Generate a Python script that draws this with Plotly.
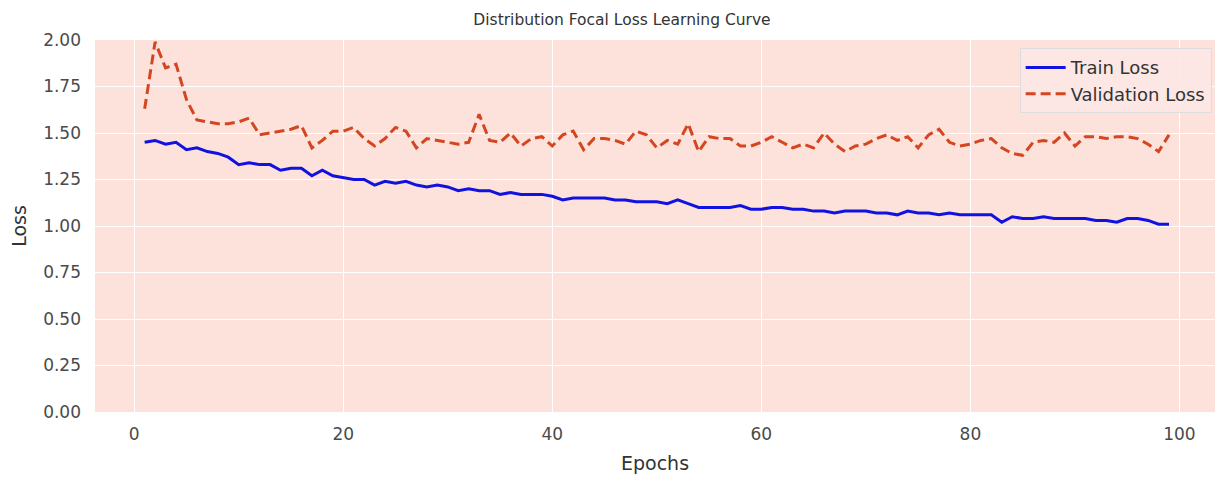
import plotly.graph_objects as go

epochs = list(range(1, 100))

train_loss = [
    1.45, 1.46, 1.44, 1.45, 1.41, 1.42, 1.40, 1.39, 1.37, 1.33,
    1.34, 1.33, 1.33, 1.30, 1.31, 1.31, 1.27, 1.30, 1.27, 1.26,
    1.25, 1.25, 1.22, 1.24, 1.23, 1.24, 1.22, 1.21, 1.22, 1.21,
    1.19, 1.20, 1.19, 1.19, 1.17, 1.18, 1.17, 1.17, 1.17, 1.16,
    1.14, 1.15, 1.15, 1.15, 1.15, 1.14, 1.14, 1.13, 1.13, 1.13,
    1.12, 1.14, 1.12, 1.10, 1.10, 1.10, 1.10, 1.11, 1.09, 1.09,
    1.10, 1.10, 1.09, 1.09, 1.08, 1.08, 1.07, 1.08, 1.08, 1.08,
    1.07, 1.07, 1.06, 1.08, 1.07, 1.07, 1.06, 1.07, 1.06, 1.06,
    1.06, 1.06, 1.02, 1.05, 1.04, 1.04, 1.05, 1.04, 1.04, 1.04,
    1.04, 1.03, 1.03, 1.02, 1.04, 1.04, 1.03, 1.01, 1.01,
]

val_loss = [
    1.63, 1.99, 1.85, 1.87, 1.68, 1.57, 1.56, 1.55, 1.55, 1.56,
    1.58, 1.49, 1.50, 1.51, 1.52, 1.54, 1.42, 1.46, 1.51, 1.51,
    1.53, 1.47, 1.43, 1.47, 1.53, 1.51, 1.42, 1.47, 1.46, 1.45,
    1.44, 1.45, 1.60, 1.46, 1.45, 1.50, 1.43, 1.47, 1.48, 1.43,
    1.49, 1.51, 1.41, 1.47, 1.47, 1.46, 1.44, 1.51, 1.49, 1.42,
    1.46, 1.44, 1.55, 1.40, 1.48, 1.47, 1.47, 1.43, 1.43, 1.45,
    1.48, 1.45, 1.42, 1.44, 1.42, 1.50, 1.44, 1.40, 1.43, 1.44,
    1.47, 1.49, 1.46, 1.48, 1.42, 1.49, 1.52, 1.45, 1.43, 1.44,
    1.46, 1.47, 1.42, 1.39, 1.38, 1.45, 1.46, 1.45, 1.50, 1.43,
    1.48, 1.48, 1.47, 1.48, 1.48, 1.47, 1.44, 1.40, 1.49,
]

x_ticks = [0, 20, 40, 60, 80, 100]
y_ticks = [0.00, 0.25, 0.50, 0.75, 1.00, 1.25, 1.50, 1.75, 2.00]

fig = go.Figure()
fig.add_trace(go.Scatter(
    x=epochs, y=train_loss, mode="lines", name="Train Loss",
    line=dict(color="#1212e0", width=3),
))
fig.add_trace(go.Scatter(
    x=epochs, y=val_loss, mode="lines", name="Validation Loss",
    line=dict(color="#d4461f", width=3, dash="10px,5px"),
))

font_family = "DejaVu Sans, Verdana, sans-serif"

fig.update_layout(
    width=1228, height=481,
    margin=dict(l=87, r=21, t=32, b=77),
    paper_bgcolor="white",
    plot_bgcolor="#fde2dc",
    font=dict(family=font_family, color="#444444", size=14),
    title=dict(text="Distribution Focal Loss Learning Curve", x=0.5, xanchor="center",
               y=0.975, yanchor="middle", font=dict(size=15.5, color="#333333")),
    showlegend=True,
    legend=dict(
        x=0.997, y=0.978, xanchor="right", yanchor="top",
        bgcolor="rgba(253,232,228,0.9)", bordercolor="#dddddd", borderwidth=1,
        font=dict(size=18, color="#333333"),
        itemwidth=40, tracegroupgap=0,
    ),
)

fig.update_xaxes(
    range=[-3.75, 103.4], tickvals=x_ticks, ticktext=[str(v) for v in x_ticks],
    showgrid=True, gridcolor="white", gridwidth=1.3, zeroline=False,
    showline=False, ticks="", tickfont=dict(size=17, color="#4a4a4a"),
    ticklabelstandoff=10,
    title=dict(text="Epochs", font=dict(size=19, color="#333333"), standoff=13),
)
fig.update_yaxes(
    range=[0, 2.0], tickvals=y_ticks, ticktext=[f"{v:.2f}" for v in y_ticks],
    showgrid=True, gridcolor="white", gridwidth=1.3, zeroline=False,
    showline=False, ticks="", tickfont=dict(size=17, color="#4a4a4a"),
    ticklabelstandoff=13,
    title=dict(text="Loss", font=dict(size=19, color="#333333"), standoff=11),
)

fig.write_html("out.html")
